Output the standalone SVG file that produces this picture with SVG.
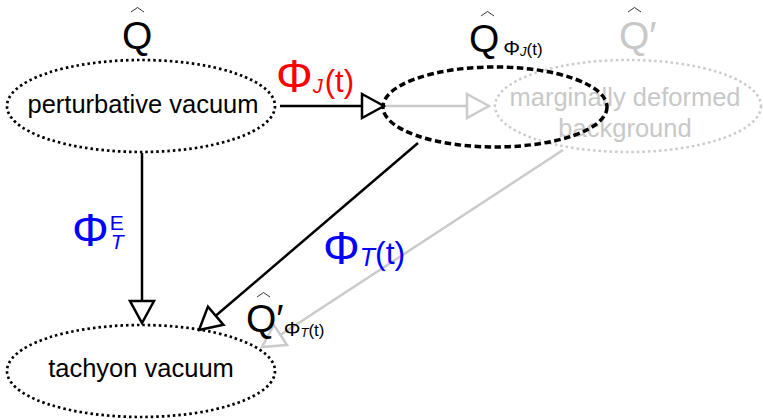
<svg xmlns="http://www.w3.org/2000/svg" width="763" height="420" viewBox="0 0 763 420">
<defs>
<style>
text{font-family:"Liberation Sans",Arial,sans-serif}
.node{font-size:25.5px;text-anchor:middle}
.dot{fill:none;stroke:#000;stroke-width:2.7;stroke-dasharray:2.5 3}
.dash{fill:none;stroke:#000;stroke-width:3.5;stroke-dasharray:6.5 3.5}
.gdot{fill:none;stroke:#cbcbcb;stroke-width:2.5;stroke-dasharray:2.5 3}
.edge{fill:none;stroke:#000;stroke-width:2.5}
.gedge{fill:none;stroke:#cbcbcb;stroke-width:2.5}
.hat{fill:none;stroke:#000;stroke-width:0.8}
.big{font-size:39px}
.phi{font-size:46px}
</style>
<marker id="ah" markerUnits="userSpaceOnUse" markerWidth="26" markerHeight="28" refX="22" refY="12" orient="auto" viewBox="-2 -2 26 28">
<path d="M0,0 L22,12 L0,24 Z" fill="#fff" stroke="#000" stroke-width="2.5"/>
</marker>
<marker id="gah" markerUnits="userSpaceOnUse" markerWidth="26" markerHeight="28" refX="22" refY="12" orient="auto" viewBox="-2 -2 26 28">
<path d="M0,0 L22,12 L0,24 Z" fill="#fff" stroke="#cbcbcb" stroke-width="2.5"/>
</marker>
</defs>
<rect width="763" height="420" fill="#fff"/>

<g id="node-marginal">
<ellipse class="gdot" cx="628" cy="106" rx="133" ry="46"/>
<text class="node" x="625" y="106" fill="#c8c8c8">marginally deformed</text>
<text class="node" x="625" y="137" fill="#c8c8c8">background</text>
</g>

<g id="connectors">
<line class="edge" x1="280" y1="106" x2="384" y2="106" marker-end="url(#ah)"/>
<line class="gedge" x1="386" y1="106" x2="489" y2="106" marker-end="url(#gah)"/>
<line class="edge" x1="142" y1="153" x2="142" y2="323" marker-end="url(#ah)"/>
<line class="edge" x1="418" y1="143" x2="199" y2="330" marker-end="url(#ah)"/>
<line class="gedge" x1="563" y1="150" x2="262" y2="347" marker-end="url(#gah)"/>
</g>

<g id="node-perturbative">
<ellipse class="dot" cx="141" cy="106" rx="134" ry="46"/>
<text class="node" x="143" y="113">perturbative vacuum</text>
</g>

<g id="node-deformed">
<ellipse class="dash" cx="495" cy="107" rx="112" ry="40"/>
</g>

<g id="node-tachyon">
<ellipse class="dot" cx="141" cy="371" rx="134" ry="46"/>
<text class="node" x="141" y="377">tachyon vacuum</text>
</g>

<g id="labels">
<text class="big" x="122" y="49">Q</text>
<path class="hat" d="M131,12 L137.5,7.5 L144,12"/>

<text class="big" x="469" y="52">Q<tspan font-size="21" dx="4" dy="3">Φ</tspan><tspan font-size="13" font-style="italic" dy="1">J</tspan><tspan font-size="17" dy="-1">(t)</tspan></text>
<path class="hat" d="M481,16 L487.5,11.5 L494,16"/>

<text class="big" x="619" y="49" fill="#c8c8c8">Q′</text>
<path class="hat" d="M628,12 L634.5,7.5 L641,12" stroke="#c8c8c8"/>

<text class="big" x="246" y="332">Q′<tspan font-size="21" dy="4">Φ</tspan><tspan font-size="13" font-style="italic" dy="1">T</tspan><tspan font-size="17" dy="-1">(t)</tspan></text>
<path class="hat" d="M257,297 L263.5,292.5 L270,297"/>

<text x="276" y="92" fill="#ff0000"><tspan class="phi">Φ</tspan><tspan font-size="20" font-style="italic" dy="1">J</tspan><tspan font-size="31" dy="-1" dx="2">(t)</tspan></text>

<text x="72" y="246" fill="#0000ff"><tspan class="phi">Φ</tspan><tspan font-size="21" dy="-16" dx="1">E</tspan><tspan font-size="21" font-style="italic" dx="-13" dy="19">T</tspan></text>

<text x="323" y="264" fill="#0000ff"><tspan class="phi">Φ</tspan><tspan font-size="25" font-style="italic" dy="2">T</tspan><tspan font-size="32" dy="-2">(t)</tspan></text>
</g>
</svg>
